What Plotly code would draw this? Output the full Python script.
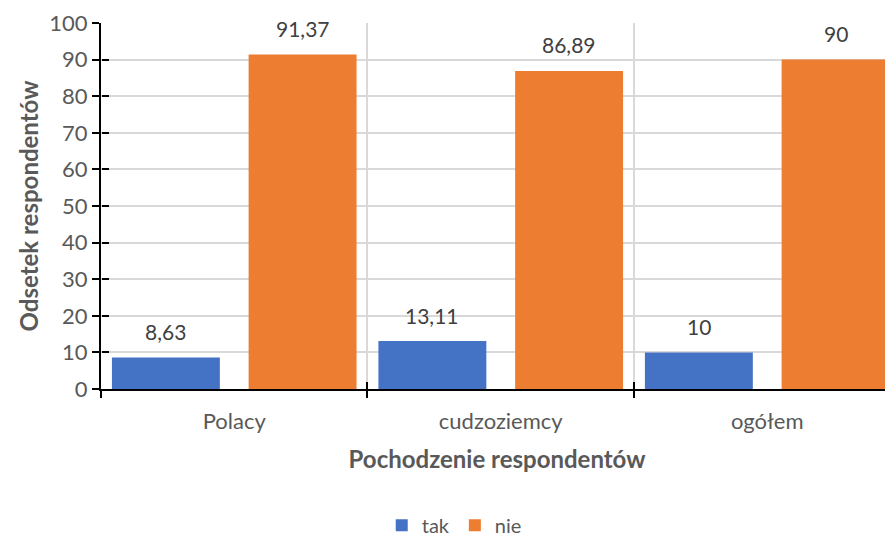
import plotly.graph_objects as go

# data
categories = ["Polacy", "cudzoziemcy", "ogółem"]
tak = [8.63, 13.11, 10]
nie = [91.37, 86.89, 90]
y_ticks = list(range(0, 101, 10))

BLUE = "#4472C4"
ORANGE = "#ED7D31"
FONT = "Lato, Open Sans, sans-serif"
GREY = "#595959"

# bar geometry in category units (Excel-like spacing)
BAR_W = 0.405
OFFS = {"tak": -0.459, "nie": 0.054}

# the page body keeps its default 8px margin, so the figure is 8px smaller
PAGE_PAD = 8


def pl(v):
    # polish decimal comma
    return f"{v:g}".replace(".", ",")


fig = go.Figure()
for name, vals, color in [("tak", tak, BLUE), ("nie", nie, ORANGE)]:
    fig.add_trace(
        go.Bar(
            x=categories,
            y=vals,
            name=name,
            marker=dict(color=color, line=dict(width=0)),
            width=BAR_W,
            offset=OFFS[name],
        )
    )

# dummy trace so the overlay axes (inside half of crossing ticks) get drawn
fig.add_trace(
    go.Scatter(x=[None], y=[None], xaxis="x2", yaxis="y2", showlegend=False, hoverinfo="skip")
)

# data labels above bars
annotations = []
for name, vals in [("tak", tak), ("nie", nie)]:
    for i, v in enumerate(vals):
        annotations.append(
            dict(
                x=i + OFFS[name] + BAR_W / 2,
                y=v,
                xref="x",
                yref="y",
                text=pl(v),
                showarrow=False,
                yanchor="middle",
                yshift=26,
                font=dict(family=FONT, size=21, color="#404040"),
            )
        )

XR = [-0.5, 2.472]

fig.update_layout(
    barmode="group",
    width=893 - PAGE_PAD,
    height=539 - PAGE_PAD,
    margin=dict(l=101 - PAGE_PAD, r=0, t=23 - PAGE_PAD, b=150, autoexpand=False),
    paper_bgcolor="white",
    plot_bgcolor="white",
    font=dict(family=FONT, size=22, color=GREY),
    annotations=annotations,
    xaxis=dict(
        range=XR,
        automargin=False,
        tickson="boundaries",
        ticks="outside",
        ticklen=7,
        tickwidth=2,
        tickcolor="black",
        showline=True,
        linecolor="black",
        linewidth=2,
        showgrid=True,
        gridcolor="#d9d9d9",
        gridwidth=1.5,
        ticklabelstandoff=12,
        tickfont=dict(size=22, color=GREY),
        title=dict(
            text="<b>Pochodzenie respondentów</b>",
            font=dict(size=24, color=GREY),
            standoff=18,
        ),
    ),
    yaxis=dict(
        range=[0, 100],
        automargin=False,
        tickvals=y_ticks,
        ticks="outside",
        ticklen=7,
        tickwidth=2,
        tickcolor="black",
        showline=True,
        linecolor="black",
        linewidth=2,
        showgrid=True,
        gridcolor="#d9d9d9",
        gridwidth=1.5,
        zeroline=False,
        tickfont=dict(size=22, color=GREY),
        title=dict(
            text="<b>Odsetek respondentów</b>",
            font=dict(size=24, color=GREY),
            standoff=4,
        ),
    ),
    xaxis2=dict(
        overlaying="x",
        anchor="free",
        position=0,
        range=XR,
        tickvals=[0.5, 1.5],
        ticks="inside",
        ticklen=7,
        tickwidth=2,
        tickcolor="black",
        showticklabels=False,
        showgrid=False,
        zeroline=False,
    ),
    yaxis2=dict(
        overlaying="y",
        anchor="free",
        position=0,
        side="left",
        range=[0, 100],
        tickvals=y_ticks,
        ticks="inside",
        ticklen=7,
        tickwidth=2,
        tickcolor="black",
        showticklabels=False,
        showgrid=False,
        zeroline=False,
    ),
    legend=dict(
        orientation="h",
        x=0.446,
        xanchor="center",
        y=-0.372,
        yanchor="middle",
        font=dict(size=20, color=GREY),
        itemwidth=30,
    ),
)

fig.write_html("out.html")
